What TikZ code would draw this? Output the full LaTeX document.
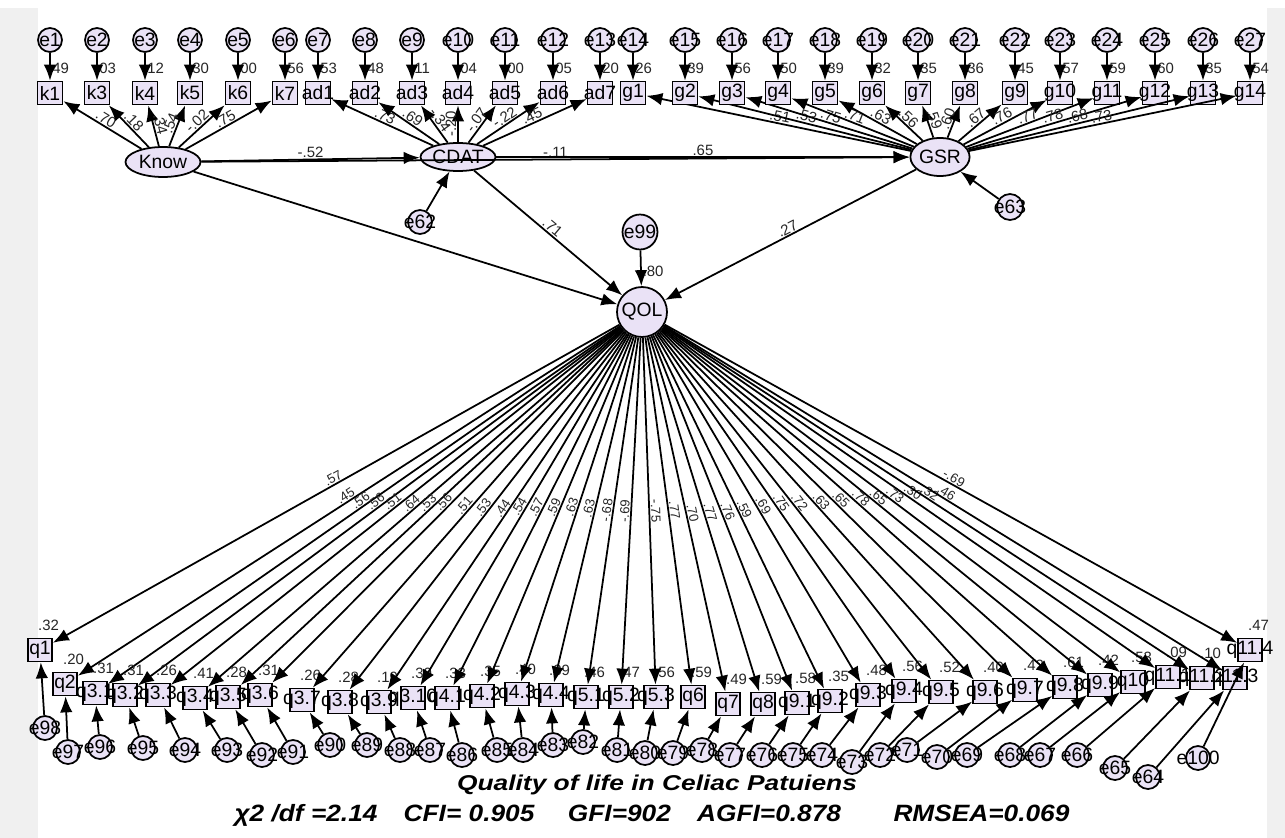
\documentclass[tikz,border=0pt]{standalone}
\usepackage{fontspec}
\usepackage{graphicx}
\setmainfont{Liberation Sans}
\usetikzlibrary{arrows.meta,shapes.geometric}
\definecolor{amoslav}{RGB}{234,226,246}
\definecolor{amosgray}{RGB}{240,240,240}

\begin{document}
\begin{tikzpicture}[x=0.02cm,y=-0.02cm,
  txt/.style={font=\fontsize{11}{11}\selectfont,inner sep=0pt},
  obs/.style={draw,line width=1pt,fill=amoslav,minimum width=0.5cm,minimum height=0.46cm,inner sep=0pt},
  lowobs/.style={obs,minimum width=0.48cm},
  err/.style={circle,draw,line width=1pt,fill=amoslav,minimum size=0.48cm,inner sep=0pt},
  lat/.style={ellipse,draw,line width=1pt,fill=amoslav,inner sep=0pt,font=\fontsize{11}{11}\selectfont},
  arr/.style={-{Latex[length=0.32cm,width=0.25cm]},line width=1pt},
  est/.style={font=\fontsize{8.5}{8.5}\selectfont,inner sep=0.5pt,text=black!85},
  fanest/.style={est,font=\fontsize{7.5}{7.5}\selectfont},
  rsq/.style={est,anchor=south west,xshift=-0.06cm,yshift=0.12cm}]

	\useasboundingbox (0,0) rectangle (1285,838);
	\fill[amosgray] (0,8) rectangle (1285,838);
	\fill[white] (38,8) rectangle (1267,838);

	\node[lat,minimum width=1.5cm,minimum height=0.6cm] (know) at (163,162) {Know};
	\node[lat,minimum width=1.5cm,minimum height=0.56cm] (cdat) at (458,157) {CDAT};
	\node[lat,minimum width=1.16cm,minimum height=0.76cm] (gsr) at (940,157) {GSR};
	\node[lat,circle,minimum size=1cm] (qol) at (642,312) {QOL};
	\node[lat,circle,minimum size=0.66cm] (e99) at (640,232) {e99};
	\node[err] (e62) at (420,222) {};
	\node[txt] at (e62) {e62};
	\node[err,minimum size=0.52cm] (e63) at (1010,207) {};
	\node[txt] at (e63) {e63};

	\foreach \i/\x/\lab/\rr/\ld/\src in {1/50/k1/.49/.70/know, 2/97/k3/.03/.18/know,
		3/145/k4/.12/.34/know, 4/190/k5/.30/.54/know, 5/238/k6/.00/-.02/know,
		6/285/k7/.56/.75/know, 7/318/ad1/.53/.73/cdat, 8/365/ad2/.48/.69/cdat,
		9/412/ad3/.11/-.34/cdat, 10/458/ad4/.04/-.20/cdat, 11/505/ad5/.00/-.07/cdat,
		12/553/ad6/.05/-.22/cdat, 13/600/ad7/.20/.45/cdat, 14/633/g1/.26/.51/gsr,
		15/685/g2/.39/.53/gsr, 16/732/g3/.56/.75/gsr, 17/778/g4/.50/.71/gsr,
		18/825/g5/.39/.63/gsr, 19/872/g6/.32/.56/gsr, 20/918/g7/.35/.59/gsr,
		21/965/g8/.36/.60/gsr, 22/1015/g9/.45/.67/gsr, 23/1060/g10/.57/.76/gsr,
		24/1107/g11/.59/.77/gsr, 25/1155/g12/.60/.78/gsr, 26/1203/g13/.35/.68/gsr,
		27/1250/g14/.54/.73/gsr}{
		\node[err] (e\i) at (\x,40) {};
		\node[txt] at (e\i) {e\i};
		\node[obs] (t\i) at (\x,93) {};
		\node[txt] at (t\i) {\lab};
		\node[rsq] at (t\i.north) {\rr};
		\draw[arr] (e\i) -- (t\i);
		\draw[arr] (\src) -- node[est,sloped,above]{\ld} (t\i);
	}

	\draw[arr] (know) -- node[est,above]{-.52} (cdat);
	\draw[arr] (know) -- node[est,above]{-.11} (gsr);
	\draw[arr] (cdat) -- node[est,above]{.65} (gsr);
	\draw[arr] (know) -- (qol);
	\draw[arr] (cdat) -- node[est,sloped,above]{.71} (qol);
	\draw[arr] (gsr) -- node[est,sloped,above]{.27} (qol);
	\draw[arr] (e62) -- (cdat);
	\draw[arr] (e63) -- (gsr);
	\draw[arr] (e99) -- node[est,right,pos=0.6]{.80} (qol);

	\foreach \i/\x/\y/\lab/\rr/\ld/\en/\ex/\ey in {1/40/650/q1/.32/.57/98/45/728,
		2/65/684/q2/.20/.45/97/68/752, 3/95/693/q3.1/.31/.56/96/100/747,
		4/125/695/q3.2/.31/.56/95/143/748, 5/158/695/q3.3/.26/.51/94/185/750,
		6/195/698/q3.4/.41/.64/93/227/750, 7/228/697/q3.5/.28/.53/92/262/755,
		8/260/695/q3.6/.31/.56/91/293/752, 9/302/700/q3.7/.26/.51/90/330/745,
		10/340/702/q3.8/.28/.53/89/367/745, 11/379/702/q3.9/.19/.44/88/400/750,
		12/413/698/q3.10/.30/.54/87/430/750, 13/447/698/q4.1/.33/.57/86/462/755,
		14/482/696/q4.2/.35/.59/85/497/750, 15/517/694/q4.3/.40/.63/84/523/750,
		16/551/695/q4.4/.39/.63/83/553/745, 17/586/697/q5.1/.46/-.68/82/583/742,
		18/621/697/q5.2/.47/-.69/81/617/750, 19/656/697/q5.3/.56/-.75/80/645/753,
		20/693/697/q6/.59/.77/79/673/753, 21/728/704/q7/.49/.70/78/702/750,
		22/763/704/q8/.59/.77/77/730/755, 23/797/703/q9.1/.58/.76/76/762/755,
		24/830/701/q9.2/.35/.59/75/793/755, 25/868/695/q9.3/.48/.69/74/822/755,
		26/904/691/q9.4/.56/.75/73/852/762, 27/941/692/q9.5/.52/.72/72/880/755,
		28/985/692/q9.6/.40/.63/71/907/750, 29/1025/690/q9.7/.42/.65/70/937/757,
		30/1065/687/q9.8/.61/.78/69/967/755, 31/1100/685/q9.9/.42/.65/68/1010/755,
		32/1133/682/q10/.53/.73/67/1040/755, 33/1168/677/q11.1/.09/.30/66/1077/755,
		34/1202/678/q11.2/.10/.32/65/1115/768, 35/1235/678/q11.3//.46/64/1148/777,
		36/1250/650/q11.4/.47/-.69/100/1198/758}{
		\node[err] (d\i) at (\ex,\ey) {};
		\node[txt] at (d\i) {e\en};
		\node[lowobs] (q\i) at (\x,\y) {};
		\node[txt] at (q\i) {\lab};
		\node[rsq] at (q\i.north) {\rr};
		\draw[arr] (d\i) -- (q\i);
		\draw[arr] (qol) -- node[fanest,sloped,above]{\ld} (q\i);
	}

	\node[font=\bfseries\itshape] (title) at (657,785)
		{\resizebox*{8cm}{0.4cm}{Quality of life in Celiac Patuiens}};
	\node[font=\bfseries\itshape] (fitline) at (652,815)
		{\resizebox*{16.7cm}{0.44cm}{χ2 /df =2.14\quad CFI= 0.905\quad\ GFI=902\quad AGFI=0.878\qquad RMSEA=0.069}};
\end{tikzpicture}
\end{document}
